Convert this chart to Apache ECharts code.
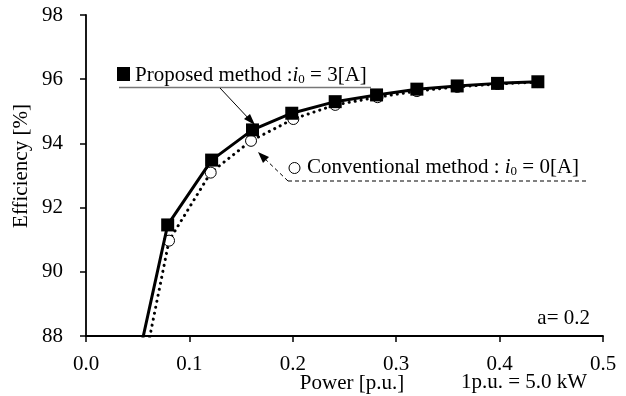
<!DOCTYPE html>
<html>
<head>
<meta charset="utf-8">
<script src="https://cdn.jsdelivr.net/npm/echarts@6/dist/echarts.min.js"></script>
<style>
  html, body { margin: 0; padding: 0; background: #fff; }
  #chart { width: 626px; height: 396px; }
</style>
</head>
<body>
<div id="chart"></div>
<script>
// power [p.u.] and efficiency [%]
const proposedPower = [0.05, 0.079, 0.1215, 0.161, 0.199, 0.241, 0.281, 0.320, 0.359, 0.398, 0.437];
const proposedEff = [87.2, 91.46, 93.48, 94.42, 94.94, 95.30, 95.51, 95.69, 95.79, 95.87, 95.92];

const conventionalPower = [0.05, 0.0803, 0.1206, 0.1596, 0.2005, 0.241, 0.282, 0.320, 0.359, 0.398, 0.437];
const conventionalEff = [86.1, 90.97, 93.09, 94.08, 94.76, 95.20, 95.44, 95.63, 95.76, 95.85, 95.91];

const xTicks = [0.0, 0.1, 0.2, 0.3, 0.4, 0.5];
const yTicks = [88, 90, 92, 94, 96, 98];

const FONT = "'Liberation Serif', 'DejaVu Serif', serif";
const FS = 21;

function toSeriesData(xs, ys) {
  // first point only drives the line down to the axis, no marker
  return xs.map((x, i) => i === 0 ? { value: [x, ys[i]], symbol: "none" } : [x, ys[i]]);
}

const chart = echarts.init(document.getElementById("chart"), null, { renderer: "canvas" });

const labelRich = {
  it: { fontFamily: FONT, fontSize: FS, fontStyle: "italic", color: "#000" },
  sub: { fontFamily: FONT, fontSize: 13, color: "#000", padding: [9, 0, 0, 0] }
};

chart.setOption({
  animation: false,
  backgroundColor: "#fff",
  textStyle: { fontFamily: FONT, color: "#000" },
  grid: { left: 86, right: 23, top: 15, bottom: 60 },
  xAxis: {
    type: "value",
    min: xTicks[0],
    max: xTicks[xTicks.length - 1],
    interval: 0.1,
    axisLine: { lineStyle: { color: "#000", width: 1.8 } },
    axisTick: { show: true, length: 6, lineStyle: { color: "#000", width: 1.5 } },
    axisLabel: { fontFamily: FONT, fontSize: FS, color: "#000", margin: 18, formatter: (v) => v.toFixed(1) },
    splitLine: { show: false }
  },
  yAxis: {
    type: "value",
    min: yTicks[0],
    max: yTicks[yTicks.length - 1],
    interval: 2,
    axisLine: { show: true, lineStyle: { color: "#000", width: 1.8 } },
    axisTick: { show: true, length: 6, lineStyle: { color: "#000", width: 1.5 } },
    axisLabel: { fontFamily: FONT, fontSize: FS, color: "#000", margin: 23 },
    splitLine: { show: false }
  },
  graphic: [
    { type: "text", x: 21, y: 166, rotation: Math.PI / 2,
      style: { text: "Efficiency [%]", font: FS + "px " + FONT, fill: "#000", align: "center", verticalAlign: "middle" } },
    { type: "text", x: 352, y: 383,
      style: { text: "Power [p.u.]", font: FS + "px " + FONT, fill: "#000", align: "center", verticalAlign: "middle" } },
    { type: "text", x: 524, y: 382,
      style: { text: "1p.u. = 5.0 kW", font: FS + "px " + FONT, fill: "#000", align: "center", verticalAlign: "middle" } },
    { type: "text", x: 590, y: 318,
      style: { text: "a= 0.2", font: FS + "px " + FONT, fill: "#000", align: "right", verticalAlign: "middle" } },

    // proposed method annotation
    { type: "rect", shape: { x: 117, y: 67, width: 13, height: 14 }, style: { fill: "#000" } },
    { type: "text", x: 135, y: 75,
      style: { text: "Proposed method :{it|i}{sub|0} = 3[A]", rich: labelRich,
        font: FS + "px " + FONT, fill: "#000", align: "left", verticalAlign: "middle" } },
    { type: "line", shape: { x1: 119, y1: 87.5, x2: 371, y2: 87.5 }, style: { stroke: "#777", lineWidth: 1.5 } },
    { type: "line", shape: { x1: 220, y1: 88, x2: 250, y2: 120 }, style: { stroke: "#000", lineWidth: 1 } },
    { type: "polygon", shape: { points: [[255, 125], [244, 119], [250, 114]] }, style: { fill: "#000" } },

    // conventional method annotation
    { type: "circle", shape: { cx: 294.5, cy: 168, r: 5.5 }, style: { fill: "#fff", stroke: "#000", lineWidth: 1 } },
    { type: "text", x: 307, y: 167,
      style: { text: "Conventional method : {it|i}{sub|0} = 0[A]", rich: labelRich,
        font: FS + "px " + FONT, fill: "#000", align: "left", verticalAlign: "middle" } },
    { type: "line", shape: { x1: 288, y1: 181, x2: 587, y2: 181 }, style: { stroke: "#000", lineWidth: 1, lineDash: [4, 3] } },
    { type: "line", shape: { x1: 288, y1: 181, x2: 263, y2: 157 }, style: { stroke: "#000", lineWidth: 1, lineDash: [4, 3] } },
    { type: "polygon", shape: { points: [[258, 152], [269, 157], [263, 163]] }, style: { fill: "#000" } }
  ],
  series: [
    {
      name: "Conventional",
      type: "line",
      clip: true,
      symbol: "circle",
      symbolSize: 11,
      itemStyle: { color: "#fff", borderColor: "#000", borderWidth: 1 },
      lineStyle: { color: "#000", width: 3, type: [0.1, 6], cap: "round" },
      z: 2,
      data: toSeriesData(conventionalPower, conventionalEff)
    },
    {
      name: "Proposed",
      type: "line",
      clip: true,
      symbol: "rect",
      symbolSize: 13,
      itemStyle: { color: "#000" },
      lineStyle: { color: "#000", width: 3 },
      z: 3,
      data: toSeriesData(proposedPower, proposedEff)
    }
  ]
});
</script>
</body>
</html>
